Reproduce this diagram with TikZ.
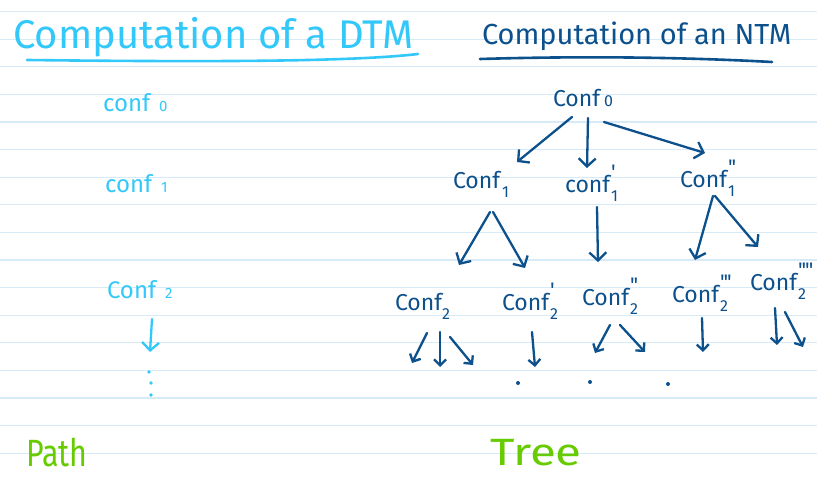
\documentclass[tikz,border=0pt]{standalone}
\usepackage{fontspec}
\setmainfont{Fira Sans}
\usetikzlibrary{arrows.meta}
\definecolor{cyanink}{RGB}{51,200,250}
\definecolor{blueink}{RGB}{12,80,140}
\definecolor{greenink}{RGB}{102,204,0}
\definecolor{ruleblue}{RGB}{214,234,248}
\newcommand\cfsub[1]{\raisebox{-9pt}{\fontsize{16}{16}\selectfont #1}}
\newcommand\cfpr[1]{\kern1pt\rlap{\raisebox{13pt}{\fontsize{21}{21}\selectfont #1}}}
\newcommand\pq{\textquotesingle\kern-1pt}
\tikzset{
  rule/.style={draw=ruleblue, line width=1.2pt},
  lbl/.style={anchor=base west, inner sep=0pt, outer sep=0pt},
  ttlL/.style={lbl, font=\fontsize{40}{44}\selectfont, text=cyanink},
  ttlR/.style={lbl, font=\fontsize{29}{32}\selectfont, text=blueink},
  lconf/.style={lbl, font=\fontsize{24}{26}\selectfont, text=cyanink},
  rconf/.style={lbl, font=\fontsize{23}{25}\selectfont, text=blueink},
  green/.style={lbl, font=\fontsize{38}{40}\selectfont, text=greenink},
  uline/.style={line width=2.6pt, line cap=round},
  arr/.style={line width=2.3pt, line cap=round, line join=round, -{Straight Barb[length=8pt,width=17pt]}},
  sarr/.style={line width=2.3pt, line cap=round, line join=round, -{Straight Barb[length=6pt,width=12pt]}}
}
\begin{document}
\begin{tikzpicture}[x=1pt,y=-1pt]
\useasboundingbox (0,0) rectangle (817,479);
\fill[white] (0,0) rectangle (817,479);
\foreach \k in {0,...,16}
  \draw[rule] (0,{11.5+27.6*\k}) -- (817,{11.5+27.6*\k});

% ---------- left: DTM ----------
\node[ttlL] (tL) at (13,48) {Computation of a DTM};
\draw[uline, cyanink] (27,60) .. controls (200,62) and (350,62) .. (418,54);
\node[lconf] (l0) at (103,111) {conf\hspace{9pt}{\fontsize{15}{15}\selectfont 0}};
\node[lconf] (l1) at (105,192) {conf\hspace{9pt}{\fontsize{15}{15}\selectfont 1}};
\node[lconf] (l2) at (107,298) {Conf\hspace{9pt}{\fontsize{15}{15}\selectfont 2}};
\draw[arr, cyanink] ([shift={(45,21)}]l2.base west) -- ([shift={(43,54)}]l2.base west);
\fill[cyanink] (149,372) circle[radius=1.8pt] (151,383) circle[radius=1.8pt] (151,395) circle[radius=1.8pt];
\node[green] (path) at (26,466) {\scalebox{0.8}[1]{Path}};

% ---------- right: NTM ----------
\node[ttlR] (tR) at (482,44) {Computation of an NTM};
\draw[uline, blueink] (480,59) .. controls (580,56) and (680,57) .. (772,62);

\node[rconf] (r0) at (553,106) {Conf\hspace{4pt}{\fontsize{16}{16}\selectfont 0}};
\node[rconf] (r1a) at (453,188) {Conf\hspace{2pt}\cfsub{1}};
\node[rconf] (r1b) at (565,192) {conf\cfpr{\pq}\cfsub{1}};
\node[rconf] (r1c) at (680,187) {Conf\cfpr{\pq\pq}\cfsub{1}};
\node[rconf] (r2a) at (395,310) {Conf\cfsub{2}};
\node[rconf] (r2b) at (502,310) {Conf\cfpr{\pq}\cfsub{2}};
\node[rconf] (r2c) at (582,305) {Conf\cfpr{\pq\pq}\cfsub{2}};
\node[rconf] (r2d) at (672,302) {Conf\cfpr{\pq\pq\pq}\cfsub{2}};
\node[rconf] (r2e) at (750,290) {Conf\cfpr{\pq\pq\pq\pq}\cfsub{2}};

\begin{scope}[blueink]
% level 0 -> 1
\draw[arr] ([shift={(19,11)}]r0.base west) -- ([shift={(64,-26)}]r1a.base west);
\draw[arr] ([shift={(35,12)}]r0.base west) -- ([shift={(22,-24)}]r1b.base west);
\draw[arr] ([shift={(51,16)}]r0.base west) -- ([shift={(25,-34)}]r1c.base west);
% level 1 -> 2
\draw[arr] ([shift={(37,24)}]r1a.base west) -- ([shift={(64,-45)}]r2a.base west);
\draw[arr] ([shift={(40,24)}]r1a.base west) -- ([shift={(23,-42)}]r2b.base west);
\draw[arr] ([shift={(32,15)}]r1b.base west) -- ([shift={(16,-43)}]r2c.base west);
\draw[arr] ([shift={(33,9)}]r1c.base west) -- ([shift={(23,-42)}]r2d.base west);
\draw[arr] ([shift={(35,9)}]r1c.base west) -- ([shift={(8,-43)}]r2e.base west);
% level 2 -> beyond
\draw[sarr] ([shift={(32,23)}]r2a.base west) -- ([shift={(17,53)}]r2a.base west);
\draw[sarr] ([shift={(45,22)}]r2a.base west) -- ([shift={(45,57)}]r2a.base west);
\draw[sarr] ([shift={(55,27)}]r2a.base west) -- ([shift={(78,55)}]r2a.base west);
\draw[sarr] ([shift={(30,22)}]r2b.base west) -- ([shift={(33,57)}]r2b.base west);
\draw[sarr] ([shift={(28,20)}]r2c.base west) -- ([shift={(13,48)}]r2c.base west);
\draw[sarr] ([shift={(38,20)}]r2c.base west) -- ([shift={(63,47)}]r2c.base west);
\draw[sarr] ([shift={(30,16)}]r2d.base west) -- ([shift={(31,50)}]r2d.base west);
\draw[sarr] ([shift={(25,18)}]r2e.base west) -- ([shift={(27,55)}]r2e.base west);
\draw[sarr] ([shift={(35,22)}]r2e.base west) -- ([shift={(53,57)}]r2e.base west);
\fill (518,383) circle[radius=2pt] (590,382) circle[radius=2pt] (668,384) circle[radius=2pt];
\end{scope}
\node[green] (tree) at (490,465) {\scalebox{1.25}[1]{Tree}};
\end{tikzpicture}
\end{document}
